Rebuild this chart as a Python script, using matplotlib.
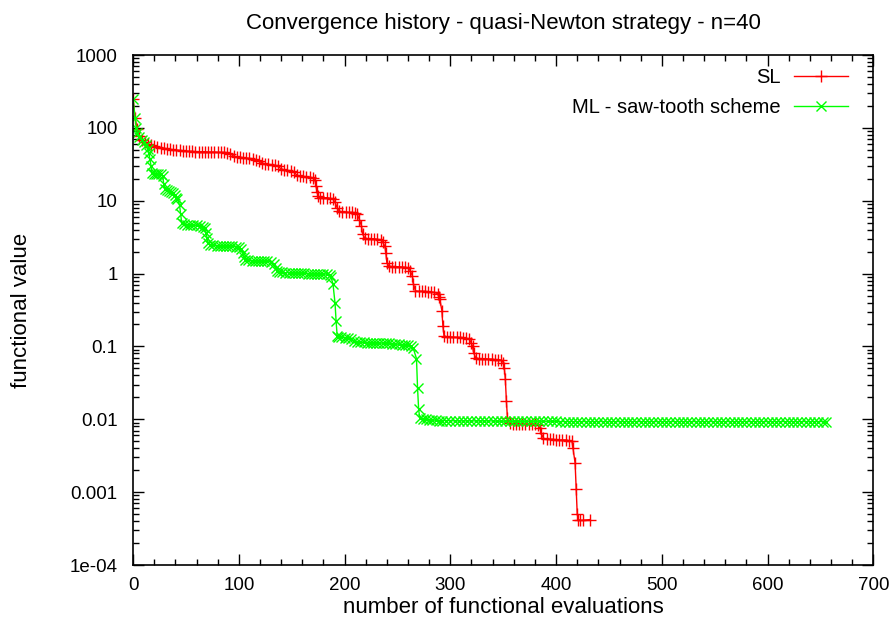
import matplotlib
matplotlib.use("Agg")
import matplotlib.pyplot as plt
from matplotlib.ticker import FixedLocator, FixedFormatter, MultipleLocator, LogLocator, NullFormatter

plt.rcParams["font.family"] = ["Liberation Sans", "DejaVu Sans"]

# {{{ data
sl_evals = [
    0, 2, 4, 6, 8, 11, 14, 17, 20, 23, 26, 29, 32, 35, 38, 41, 44, 47, 50, 53,
    56, 59, 62, 65, 68, 71, 74, 77, 80, 83, 86, 89, 92, 95, 98, 101, 104, 107,
    110, 113, 116, 119, 122, 125, 128, 131, 134, 137, 140, 143, 146, 149, 152,
    155, 158, 161, 164, 167, 170, 172, 173, 174, 175, 177, 180, 183, 186, 189,
    191, 193, 195, 198, 201, 204, 207, 210, 212, 214, 216, 217, 219, 222, 225,
    228, 231, 234, 236, 238, 239, 240, 242, 245, 248, 251, 254, 257, 260, 262,
    264, 265, 267, 270, 273, 276, 279, 282, 285, 288, 289, 290, 292, 293, 294,
    297, 300, 303, 306, 309, 312, 315, 318, 320, 321, 322, 324, 327, 330, 333,
    336, 339, 342, 345, 348, 350, 351, 352, 353, 354, 356, 359, 362, 365, 368,
    371, 374, 377, 380, 383, 385, 386, 388, 391, 394, 397, 400, 403, 406, 409,
    412, 415, 416, 418, 419, 420, 421, 423, 425, 432,
]
sl_values = [
    250, 135, 95, 78, 68, 63, 60, 58, 56, 55, 53.5, 52.5, 51.5, 50.5, 50, 49.5,
    49, 48.5, 48, 47.5, 47.5, 47, 47, 47, 47, 46.5, 46.5, 46.5, 46, 46, 46,
    45.5, 44, 41, 40, 39.5, 39, 38.5, 38, 37.5, 36.5, 35, 33, 32, 31.5, 31,
    30.5, 29.5, 27.5, 26.5, 26, 25.5, 24.5, 22.5, 21.5, 21.5, 21, 21, 20.5, 19,
    16, 13, 11.5, 11, 11, 11, 10.8, 10.5, 9.5, 8, 7.2, 7, 7, 6.9, 6.9, 6.8,
    6.5, 5.5, 4.5, 3.5, 3.1, 3.0, 3.0, 3.0, 2.95, 2.9, 2.7, 2.4, 1.94, 1.4,
    1.27, 1.25, 1.25, 1.24, 1.23, 1.22, 1.2, 1.1, 0.94, 0.73, 0.58, 0.57, 0.57,
    0.57, 0.56, 0.56, 0.55, 0.53, 0.48, 0.45, 0.31, 0.19, 0.14, 0.135, 0.135,
    0.134, 0.133, 0.133, 0.132, 0.13, 0.125, 0.11, 0.1, 0.082, 0.07, 0.068,
    0.068, 0.068, 0.067, 0.067, 0.066, 0.066, 0.065, 0.06, 0.051, 0.036, 0.018,
    0.0105, 0.0088, 0.0087, 0.0087, 0.0087, 0.0086, 0.0086, 0.0086, 0.0086,
    0.0085, 0.0083, 0.0075, 0.0064, 0.0055, 0.0053, 0.0053, 0.0053, 0.0052,
    0.0052, 0.0052, 0.0052, 0.0051, 0.005, 0.004, 0.0025, 0.0011, 0.0005,
    0.00042, 0.00041, 0.00041, 0.00042,
]

ml_evals = [
    0, 2, 3, 4, 6, 8, 10, 12, 14, 15, 16, 17, 18, 20, 22, 24, 26, 28, 29, 30,
    32, 34, 36, 38, 40, 41, 42, 44, 45, 46, 48, 51, 54, 57, 60, 63, 66, 68, 69,
    70, 71, 73, 76, 79, 82, 85, 88, 91, 94, 97, 100, 102, 104, 105, 106, 109,
    112, 115, 118, 121, 124, 127, 130, 133, 135, 136, 138, 141, 144, 147, 150,
    153, 156, 159, 162, 165, 168, 171, 174, 177, 180, 183, 186, 187, 189, 191,
    192, 193, 194, 197, 200, 203, 206, 209, 212, 215, 218, 221, 224, 227, 230,
    233, 236, 239, 242, 245, 248, 251, 254, 257, 260, 263, 265, 268, 269, 270,
    271, 274, 277, 280, 283, 286, 289,
    292, 296, 300, 304, 308, 312, 316, 320, 324, 328, 332, 336, 340, 344, 348,
    352, 356, 360, 364, 368, 372, 376, 380, 384, 388, 392, 396, 400, 404, 408,
    412, 416, 420, 424, 428, 432, 436, 440, 444, 448, 452, 456, 460, 464, 468,
    472, 476, 480, 484, 488, 492, 496, 500, 504, 508, 512, 516, 520, 524, 528,
    532, 536, 540, 544, 548, 552, 556, 560, 564, 568, 572, 576, 580, 584, 588,
    592, 596, 600, 604, 608, 612, 616, 620, 624, 628, 632, 636, 640, 644, 648,
    652, 655,
]
ml_values = [
    250, 135, 100, 86, 75, 68, 63, 58, 52, 45, 37, 30, 24, 23.5, 23.5, 23, 23,
    22, 17, 14.5, 14, 13.5, 13.2, 12.8, 12, 11, 10.5, 8.6, 6.5, 5.0, 4.8, 4.7,
    4.7, 4.6, 4.6, 4.5, 4.4, 4.2, 3.6, 3.1, 2.6, 2.45, 2.45, 2.4, 2.4, 2.4,
    2.4, 2.4, 2.38, 2.35, 2.3, 2.2, 1.94, 1.7, 1.55, 1.52, 1.5, 1.5, 1.5, 1.48,
    1.48, 1.47, 1.45, 1.35, 1.2, 1.1, 1.05, 1.04, 1.03, 1.03, 1.02, 1.02, 1.02,
    1.01, 1.01, 1.0, 1.0, 1.0, 1.0, 1.0, 0.99, 0.98, 0.96, 0.9, 0.73, 0.39,
    0.22, 0.14, 0.135, 0.133, 0.132, 0.13, 0.125, 0.118, 0.115, 0.114, 0.114,
    0.113, 0.113, 0.112, 0.112, 0.111, 0.111, 0.11, 0.11, 0.109, 0.108, 0.107,
    0.106, 0.104, 0.103, 0.1, 0.094, 0.068, 0.027, 0.014, 0.0105, 0.0102,
    0.0101, 0.0099, 0.0098, 0.0097, 0.0096,
    0.0096, 0.0096, 0.0096,
    0.0095, 0.0095, 0.0095, 0.0095, 0.0095, 0.0095, 0.0095, 0.0095, 0.0095,
    0.0095,
    0.0094, 0.0094, 0.0094, 0.0094, 0.0094, 0.0094, 0.0094, 0.0094, 0.0094,
    0.0094, 0.0094, 0.0094, 0.0094, 0.0094, 0.0094,
    0.0093, 0.0093, 0.0093, 0.0093, 0.0093, 0.0093, 0.0093, 0.0093, 0.0093,
    0.0093, 0.0093, 0.0093, 0.0093, 0.0093, 0.0093, 0.0093, 0.0093, 0.0093,
    0.0093, 0.0093, 0.0093, 0.0093, 0.0093, 0.0093, 0.0093, 0.0093, 0.0093,
    0.0093, 0.0093, 0.0093, 0.0093, 0.0093, 0.0093, 0.0093, 0.0093, 0.0093,
    0.0093, 0.0093, 0.0093, 0.0093, 0.0093, 0.0093, 0.0093, 0.0093, 0.0093,
    0.0093, 0.0093, 0.0093, 0.0093, 0.0093, 0.0093, 0.0093, 0.0093, 0.0093,
    0.0093, 0.0093, 0.0093, 0.0093, 0.0093, 0.0093, 0.0093, 0.0093, 0.0093,
    0.0093,
]

y_ticks = [1e3, 1e2, 1e1, 1, 0.1, 0.01, 0.001, 1e-4]
y_tick_labels = ["1000", "100", "10", "1", "0.1", "0.01", "0.001", "1e-04"]
# }}}

fig = plt.figure(figsize=(8.93, 6.25), dpi=100)
ax = fig.add_axes([0.149, 0.096, 0.829, 0.816])

ax.plot(sl_evals, sl_values, "-", color="#ff0000", lw=1.0, marker="+",
        ms=8, mew=1.0, label="SL")
ax.plot(ml_evals, ml_values, "-", color="#00ff00", lw=1.0, marker="x",
        ms=7, mew=1.0, label="ML - saw-tooth scheme")

ax.set_yscale("log")
ax.set_xlim(0, 700)
ax.set_ylim(1e-4, 1e3)
ax.xaxis.set_major_locator(MultipleLocator(100))
ax.xaxis.set_minor_locator(MultipleLocator(20))
ax.yaxis.set_major_locator(FixedLocator(y_ticks))
ax.yaxis.set_major_formatter(FixedFormatter(y_tick_labels))
ax.yaxis.set_minor_locator(LogLocator(base=10, subs=range(2, 10), numticks=20))
ax.yaxis.set_minor_formatter(NullFormatter())
ax.tick_params(which="both", direction="in", top=True, right=True,
               labelsize=13.5, width=1.0)
ax.tick_params(which="major", length=8)
ax.tick_params(which="minor", length=4)
ax.tick_params(axis="y", which="major", pad=11)
ax.tick_params(axis="x", which="major", pad=9)
for spine in ax.spines.values():
    spine.set_linewidth(1.2)

ax.set_xlabel("number of functional evaluations", fontsize=16, labelpad=2)
ax.set_ylabel("functional value", fontsize=16, labelpad=27)
ax.set_title("Convergence history - quasi-Newton strategy - n=40",
             fontsize=16, pad=19)

ax.legend(loc="upper right", frameon=False, markerfirst=False, fontsize=14.5,
          handlelength=2.7, handletextpad=0.65, labelspacing=0.58,
          borderaxespad=0.1, bbox_to_anchor=(0.98, 0.995))

fig.savefig("out.png", dpi=100)
